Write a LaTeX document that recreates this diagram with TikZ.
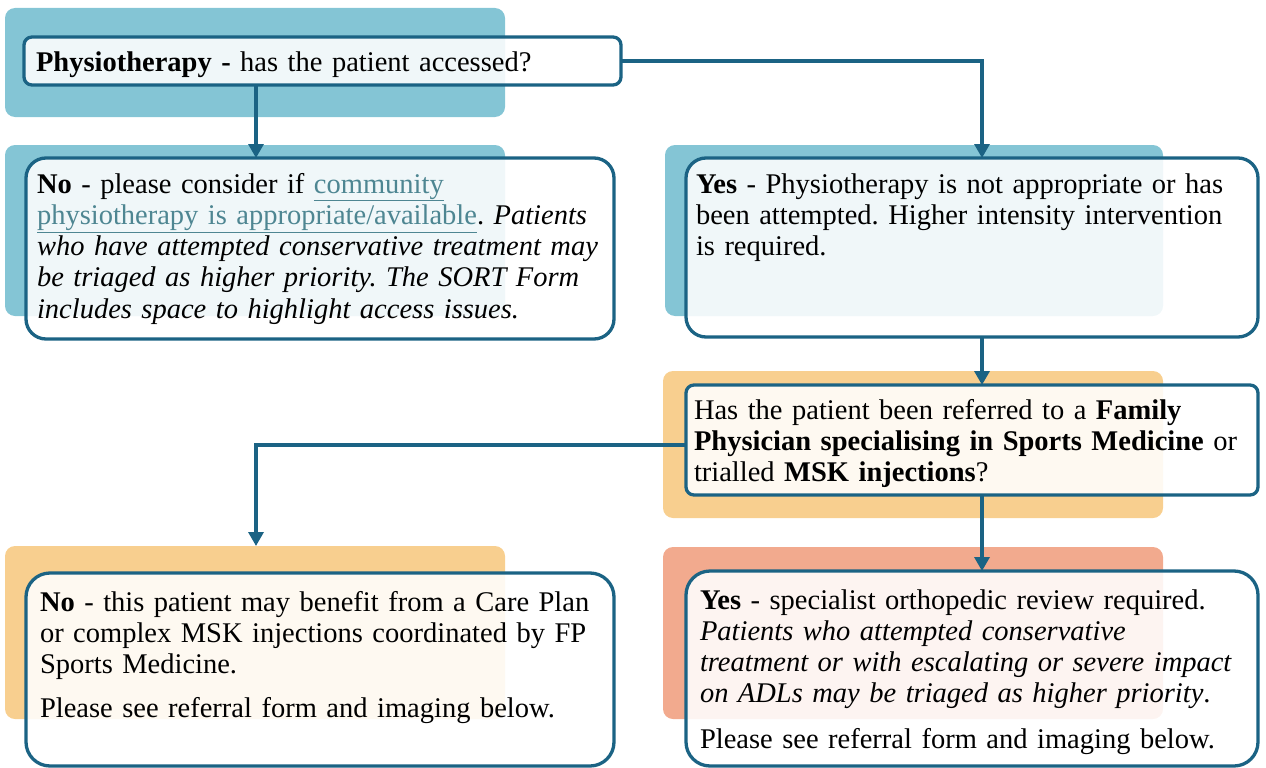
\documentclass[tikz,border=0pt]{standalone}
\usepackage{fontspec}
\setmainfont{Liberation Serif}
\frenchspacing
\usetikzlibrary{arrows.meta}
\definecolor{tealbg}{RGB}{132,197,213}
\definecolor{orangebg}{RGB}{248,207,143}
\definecolor{salmonbg}{RGB}{242,170,142}
\definecolor{borderc}{RGB}{27,99,132}
\definecolor{linkc}{RGB}{78,134,146}
\newcommand\mylink[1]{\textcolor{linkc}{\underline{#1}}}
\tikzset{
  bgbox/.style={draw=none, rounded corners=10pt, inner sep=0pt, outer sep=0pt, anchor=north west},
  fgbox/.style={draw=borderc, line width=3.3pt, fill=white, fill opacity=0.88, inner sep=0pt, outer sep=0pt, anchor=north west},
  txt/.style={inner sep=0pt, outer sep=0pt, anchor=base west, align=left, text width=640pt, font=\fontsize{28.5}{31.3}\selectfont},
  arr/.style={draw=borderc, line width=3.3pt, -{Triangle[length=14pt,width=15pt]}},
}
\begin{document}
\begin{tikzpicture}[x=1pt,y=-1pt]
\useasboundingbox (0,0) rectangle (1266,768);
% background panels
\node[bgbox, fill=tealbg, minimum width=500pt, minimum height=109pt] (b1bg) at (5,8) {};
\node[bgbox, fill=tealbg, minimum width=500pt, minimum height=171pt] (b2bg) at (5,145) {};
\node[bgbox, fill=tealbg, minimum width=498pt, minimum height=171pt] (b3bg) at (665,145) {};
\node[bgbox, fill=orangebg, minimum width=500pt, minimum height=147pt] (b4bg) at (663,371) {};
\node[bgbox, fill=orangebg, minimum width=500pt, minimum height=173pt] (b5bg) at (5,546) {};
\node[bgbox, fill=salmonbg, minimum width=500pt, minimum height=172pt] (b6bg) at (663,547) {};
% foreground boxes
\node[fgbox, rounded corners=8pt, minimum width=597pt, minimum height=48pt] (b1) at (24,37) {};
\node[fgbox, rounded corners=20pt, minimum width=588pt, minimum height=181pt] (b2) at (26,158) {};
\node[fgbox, rounded corners=20pt, minimum width=572pt, minimum height=179pt] (b3) at (686,158) {};
\node[fgbox, rounded corners=8pt, minimum width=572pt, minimum height=110pt] (b4) at (686,385) {};
\node[fgbox, rounded corners=24pt, minimum width=588pt, minimum height=193pt] (b5) at (26,573) {};
\node[fgbox, rounded corners=24pt, minimum width=572pt, minimum height=195pt] (b6) at (686,571) {};
% texts
\node[txt] (t1) at (36,71) {\textbf{Physiotherapy -} has the patient accessed?};
\node[txt] (t2) at (37,193) {\textbf{No} - please consider if \mylink{community}\\
\mylink{physiotherapy is appropriate/available}. \textit{Patients}\\
\textit{who have attempted conservative treatment may}\\
\textit{be triaged as higher priority. The SORT Form}\\
\textit{includes space to highlight access issues.}};
\node[txt] (t3) at (696,193) {\textbf{Yes} - Physiotherapy is not appropriate or has\\
been attempted. Higher intensity intervention\\
is required.};
\node[txt] (t4) at (694,419) {Has the patient been referred to a \textbf{Family}\\
\textbf{Physician specialising in Sports Medicine} or\\
trialled \textbf{MSK injections}?};
\node[txt] (t5) at (40,611) {\textbf{No} - this patient may benefit from a Care Plan\\
or complex MSK injections coordinated by FP\\
Sports Medicine.\\[13pt]
Please see referral form and imaging below.};
\node[txt] (t6) at (700,609) {\textbf{Yes} - specialist orthopedic review required.\\
\textit{Patients who attempted conservative}\\
\textit{treatment or with escalating or severe impact}\\
\textit{on ADLs may be triaged as higher priority}.\\[14pt]
Please see referral form and imaging below.};
% connectors
\coordinate (colL) at (256,0);
\coordinate (colR) at (982,0);
\coordinate (rowQ) at (0,445);
\draw[arr] (b1.south -| colL) -- (b2.north -| colL);
\draw[arr] (b1.east) -| (b3.north -| colR);
\draw[arr] (b3.south -| colR) -- (b4.north -| colR);
\draw[arr] (b4.west |- rowQ) -| (b5bg.north -| colL);
\draw[arr] (b4.south -| colR) -- (b6.north -| colR);
\end{tikzpicture}
\end{document}
